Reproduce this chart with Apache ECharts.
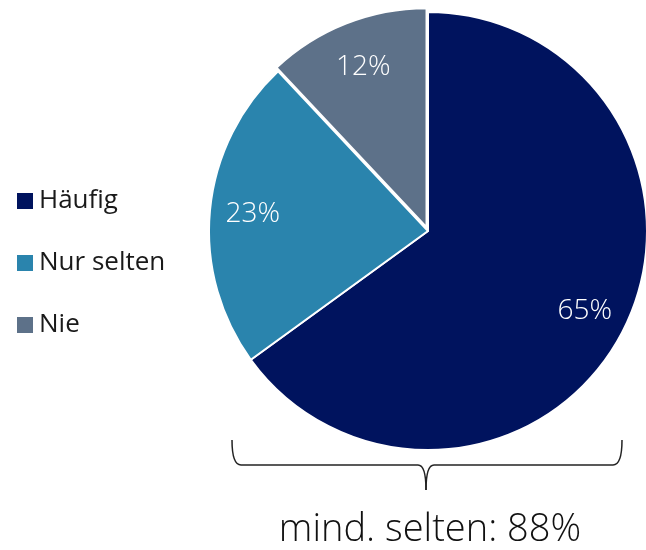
<!DOCTYPE html>
<html>
<head>
<meta charset="utf-8">
<script src="https://cdn.jsdelivr.net/npm/echarts@6/dist/echarts.min.js"></script>
<style>
  html, body { margin: 0; padding: 0; background: #fff; }
  #chart { width: 646px; height: 550px; }
</style>
</head>
<body>
<div id="chart"></div>
<script>
// Daten
var categories = ["Häufig", "Nur selten", "Nie"];
var values = [65, 23, 12];
var colors = ["#00135e", "#2a84ad", "#5d7189"];
var summaryText = "mind. selten: 88%";

var font = "'Open Sans', 'Noto Sans', sans-serif";

var pieData = categories.map(function (name, i) {
  return {
    name: name,
    value: values[i],
    selected: name === "Nie",
    itemStyle: { color: colors[i] }
  };
});

// geschweifte Klammer unter dem Kreis
var braceStyle = { fill: null, stroke: "#222", lineWidth: 1.5 };
function curve(x1, y1, cx, cy, x2, y2) {
  return { type: "bezierCurve", shape: { x1: x1, y1: y1, cpx1: cx, cpy1: cy, x2: x2, y2: y2 }, style: braceStyle };
}
function seg(x1, y1, x2, y2) {
  return { type: "line", shape: { x1: x1, y1: y1, x2: x2, y2: y2 }, style: braceStyle };
}

var myChart = echarts.init(document.getElementById("chart"));
myChart.setOption({
  animation: false,
  legend: {
    orient: "vertical",
    left: 10,
    top: 180,
    itemWidth: 18,
    itemHeight: 18,
    itemGap: 30,
    icon: "rect",
    selectedMode: false,
    data: categories,
    textStyle: { fontFamily: font, fontSize: 26, color: "#1a1a1a", lineHeight: 32 }
  },
  series: [
    {
      type: "pie",
      center: [428, 231],
      radius: [0, 219],
      startAngle: 90,
      clockwise: true,
      selectedMode: "single",
      selectedOffset: 4,
      silent: true,
      itemStyle: { borderColor: "#fff", borderWidth: 2 },
      label: { show: false },
      labelLine: { show: false },
      data: pieData
    },
    {
      // unsichtbarer Ring nur für die Beschriftung
      type: "pie",
      z: 5,
      center: [428, 231],
      radius: [128, 218],
      startAngle: 90,
      clockwise: true,
      silent: true,
      avoidLabelOverlap: false,
      itemStyle: { color: "rgba(0,0,0,0)", borderWidth: 0 },
      label: {
        show: true,
        position: "inside",
        formatter: "{c}%",
        fontFamily: font,
        fontWeight: 300,
        fontSize: 28,
        color: "#fff"
      },
      labelLayout: { hideOverlap: false },
      labelLine: { show: false },
      data: categories.map(function (name, i) {
        return { name: name + " ", value: values[i] };
      })
    }
  ],
  graphic: [
    curve(232, 440, 232, 465, 241, 465),
    seg(241, 465, 418, 465),
    curve(418, 465, 426, 465, 426, 490),
    curve(426, 490, 426, 465, 434, 465),
    seg(434, 465, 613, 465),
    curve(613, 465, 622, 465, 622, 440),
    {
      type: "text",
      x: 430,
      y: 530,
      style: {
        text: summaryText,
        align: "center",
        verticalAlign: "middle",
        fontFamily: font,
        fontWeight: 300,
        fontSize: 38,
        fill: "#111"
      }
    }
  ]
});
</script>
</body>
</html>
